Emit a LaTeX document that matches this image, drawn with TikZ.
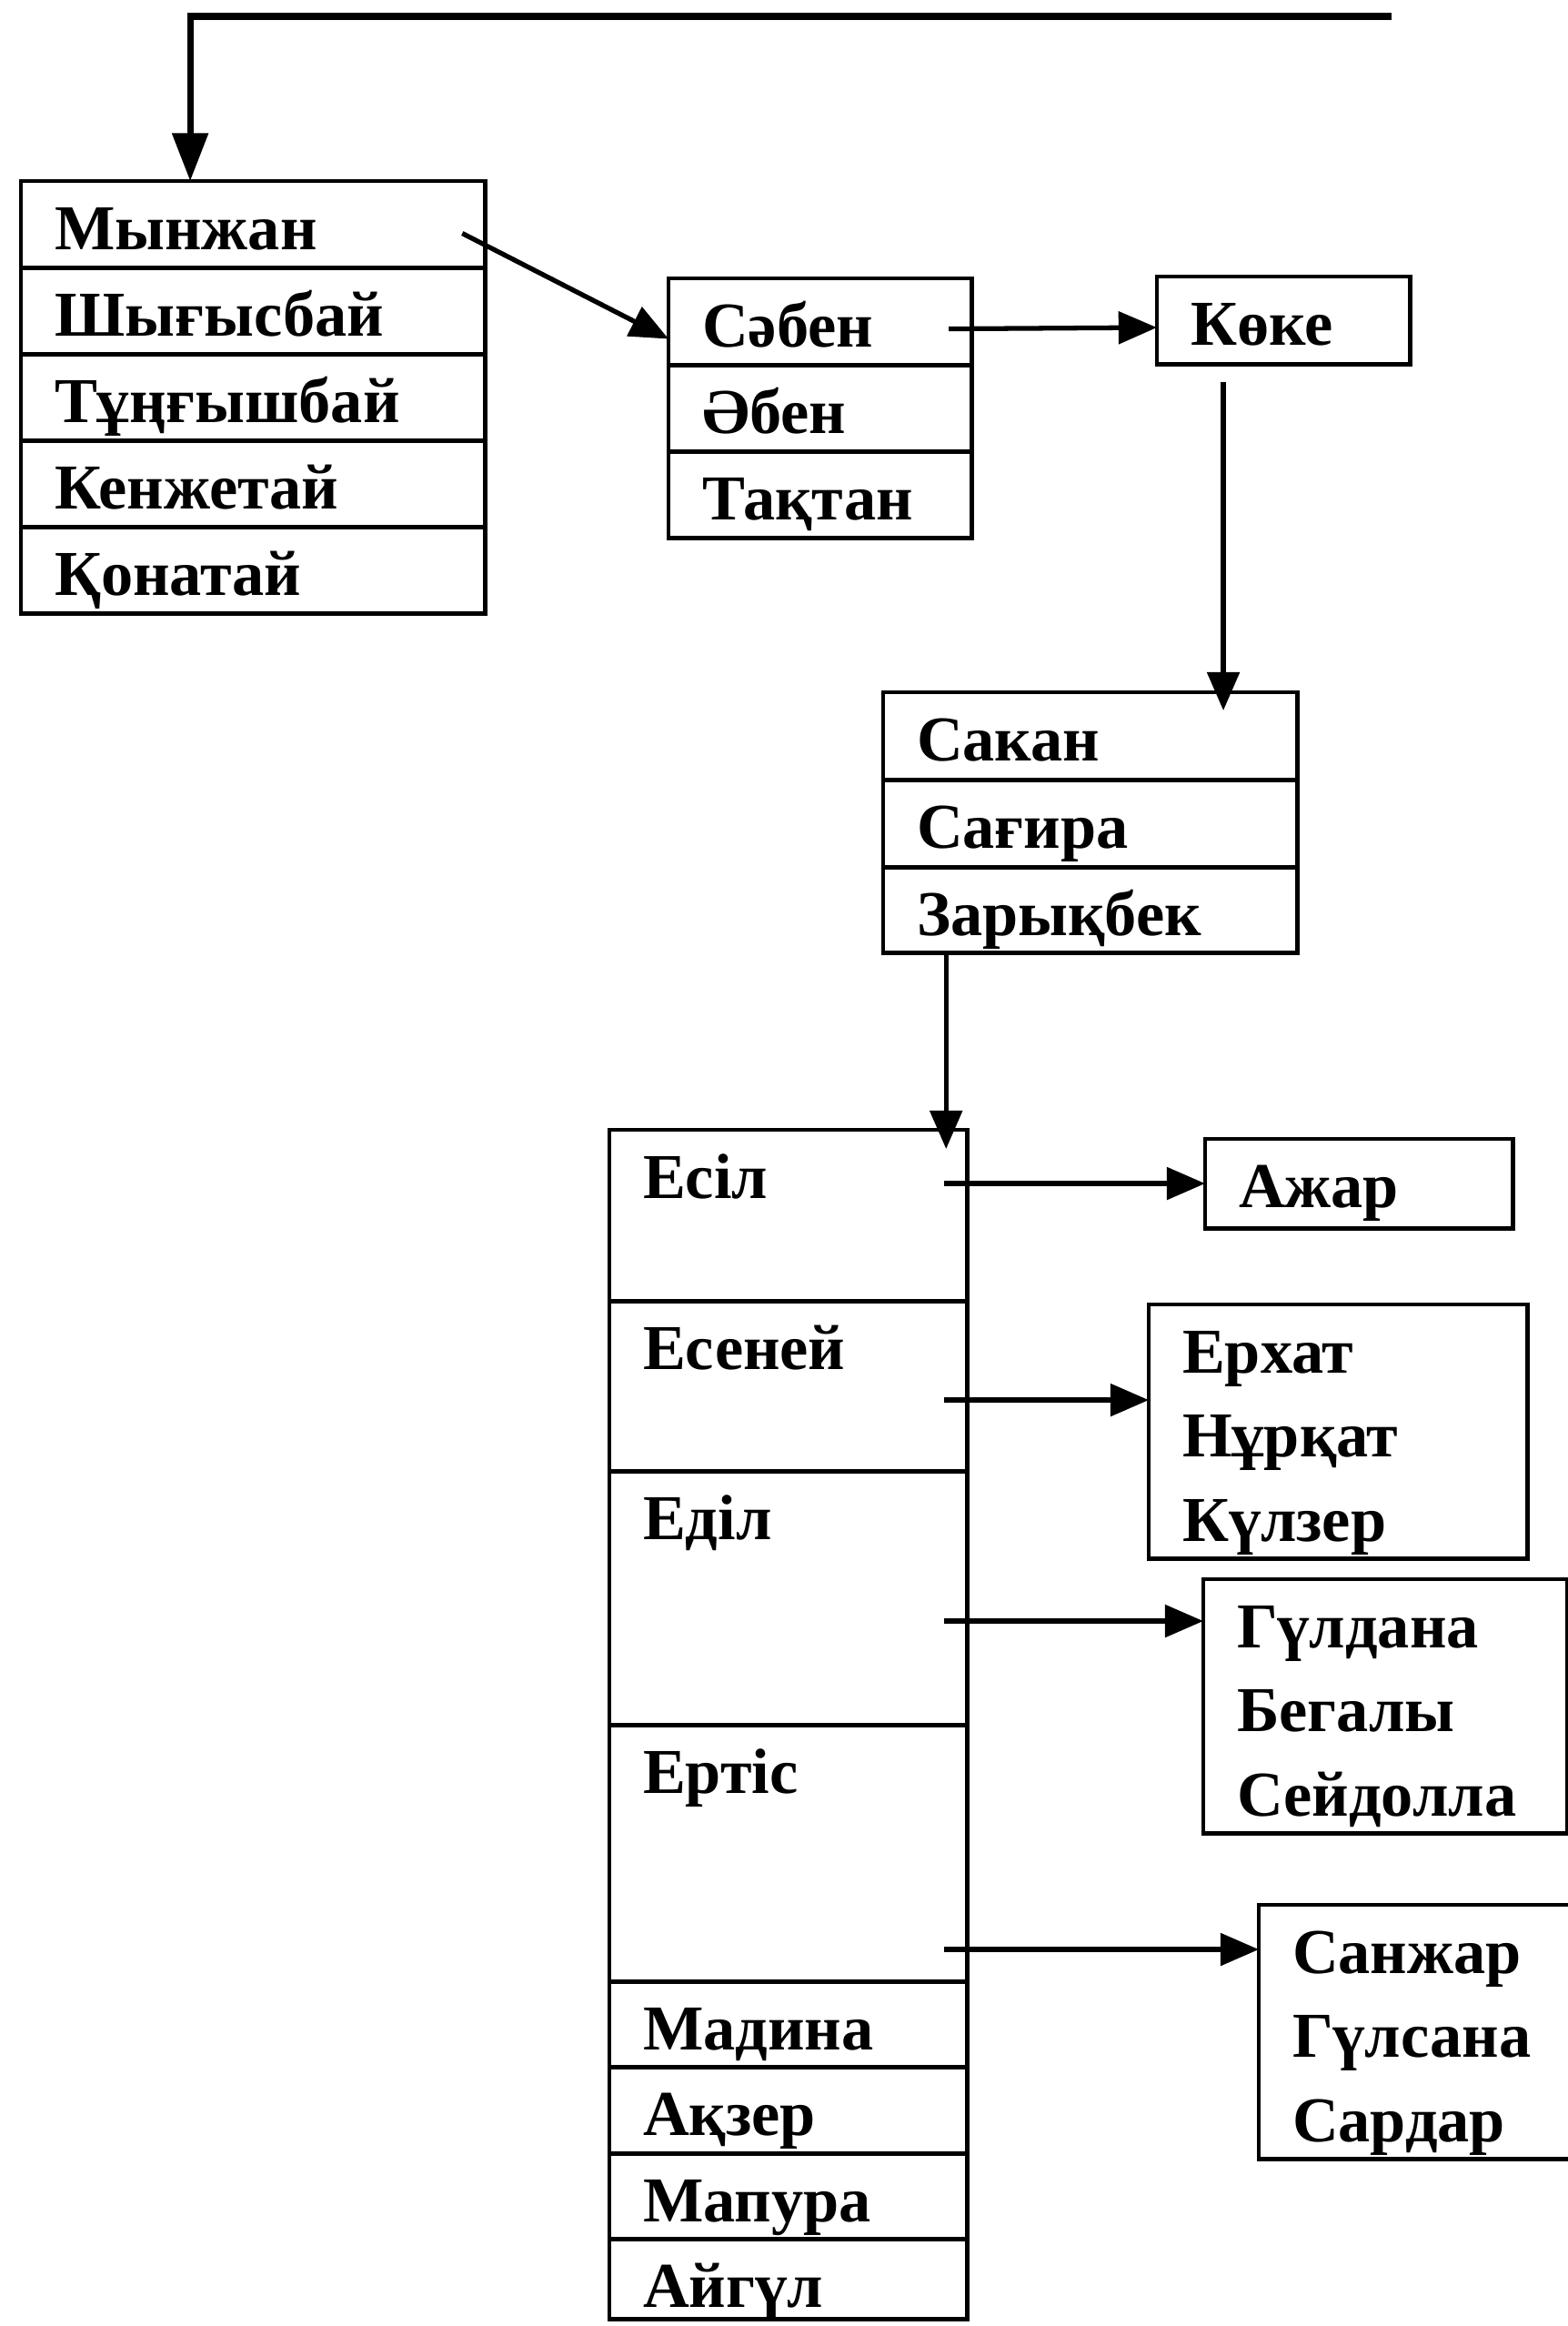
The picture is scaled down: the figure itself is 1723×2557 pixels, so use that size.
\documentclass[tikz,border=0pt]{standalone}
\usepackage{fontspec}
\setmainfont{Liberation Serif}
\usepackage{tikz}
\usetikzlibrary{arrows.meta, positioning}

\begin{document}
\begin{tikzpicture}[
  x=0.01cm, y=-0.01cm,
  >={Triangle[length=12pt, width=10pt]},
  namecell/.style={
    rectangle, draw=black, line width=1.4pt, anchor=north west,
    inner xsep=0.37cm, inner ysep=0pt, outer sep=0pt, align=left,
    text height=0.75cm, text depth=#1,
    font=\fontsize{20}{26.4}\selectfont\bfseries
  },
  namecell/.default=0.20cm,
  gen1/.style={namecell, text width=4.36cm},
  gen2/.style={namecell, text width=2.59cm},
  gen3/.style={namecell, text width=3.81cm},
  gen4/.style={namecell=#1, text width=3.19cm},
  gen4/.default=0.20cm,
  kids/.style={namecell=2.04cm, text width=#1},
  link/.style={draw, ->, line width=1.5pt},
]
\useasboundingbox (0,0) rectangle (1723,2557);

% ============================================================
% TOP BOX
% ============================================================
\node[gen1] (mynzhan) at (23,199) {Мынжан};
\node[gen1, below=0pt of mynzhan] (shygysbai) {Шығысбай};
\node[gen1, below=0pt of shygysbai] (tungyshbai) {Тұңғышбай};
\node[gen1, below=0pt of tungyshbai] (kenzhetai) {Кенжетай};
\node[gen1, below=0pt of kenzhetai] (konatai) {Қонатай};

% ============================================================
% SECOND ROW
% ============================================================
\node[gen2] (saben) at (735,306) {Сәбен};
\node[gen2, below=0pt of saben] (aben) {Әбен};
\node[gen2, below=0pt of aben] (taktan) {Тақтан};

\node[namecell=0.21cm, text width=2.04cm] (koke) at (1272,304) {Көке};

% ============================================================
% THIRD BOX
% ============================================================
\node[gen3, text depth=0.21cm] (sakan) at (971,761) {Сакан};
\node[gen3, text depth=0.21cm, below=0pt of sakan] (sagira) {Сағира};
\node[gen3, text depth=0.19cm, below=0pt of sagira] (zarykbek) {Зарықбек};

% ============================================================
% BIG COLUMN
% ============================================================
\node[gen4=1.13cm] (esil) at (670,1242) {Есіл};
\node[gen4=1.12cm, below=0pt of esil] (esenei) {Есеней};
\node[gen4=2.04cm, below=0pt of esenei] (edil) {Еділ};
\node[gen4=2.07cm, below=0pt of edil] (ertis) {Ертіс};
\node[gen4=0.19cm, below=0pt of ertis] (madina) {Мадина};
\node[gen4, below=0pt of madina] (akzer) {Ақзер};
\node[gen4=0.19cm, below=0pt of akzer] (mapura) {Мапура};
\node[gen4=0.13cm, below=0pt of mapura] (aigul) {Айгүл};

% --- children on the right ---
\node[namecell=0.23cm, text width=2.64cm] (ajar) at (1325,1252) {Ажар};
\node[kids=3.42cm] (erkhat) at (1263,1434) {Ерхат\\Нұрқат\\Күлзер};
\node[kids=3.26cm] (guldana) at (1323,1736) {Гүлдана\\Бегалы\\Сейдолла};
\node[kids=3.26cm] (sanzhar) at (1384,2094) {Санжар\\Гүлсана\\Сардар};

% ============================================================
% CONNECTORS
% ============================================================
\coordinate (topend) at (1530,18);
\draw[link, line width=2pt, -{Triangle[length=15pt, width=11pt]}]
  (topend) -| ([xshift=1.86cm]mynzhan.north west);

\draw[link] ([shift={(-0.25cm,-0.1cm)}]mynzhan.east) -- ([yshift=-0.19cm]saben.west);
\draw[link] ([shift={(-0.25cm,-0.08cm)}]saben.east) -- ([yshift=-0.08cm]koke.west);

\coordinate (koke-out) at ([shift={(-0.66cm,-0.2cm)}]koke.south);
\draw[link] (koke-out) -- ([yshift=-0.2cm]koke-out |- sakan.north);

\draw[link] ([xshift=-0.23cm]esil.north east |- zarykbek.south)
  -- ([shift={(-0.23cm,-0.21cm)}]esil.north east);

% --- to the children ---
\coordinate (erkhat-in) at ([yshift=-1.05cm]erkhat.north west);
\coordinate (guldana-in) at ([yshift=-0.46cm]guldana.north west);
\coordinate (sanzhar-in) at ([yshift=-0.49cm]sanzhar.north west);

\draw[link] ([xshift=-0.25cm]esil.east |- ajar.west) -- (ajar.west);
\draw[link] ([xshift=-0.25cm]esenei.east |- erkhat-in) -- (erkhat-in);
\draw[link] ([xshift=-0.25cm]edil.east |- guldana-in) -- (guldana-in);
\draw[link] ([xshift=-0.25cm]ertis.east |- sanzhar-in) -- (sanzhar-in);

\end{tikzpicture}
\end{document}
